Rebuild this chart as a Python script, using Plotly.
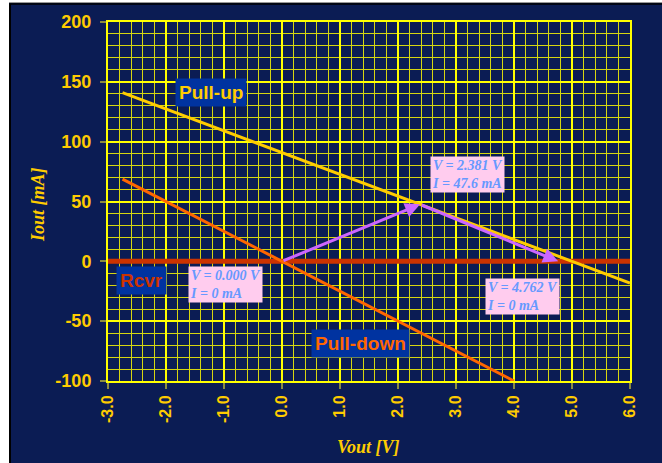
import plotly.graph_objects as go

# ---- data ----
pullup_v = [-2.75, 6.0]
pullup_i = [(5 - v) / 55 * 1000 for v in pullup_v]   # 5 V source, 55 ohm
pulldown_v = [-2.75, 4.0]
pulldown_i = [-v / 40 * 1000 for v in pulldown_v]    # 40 ohm to ground
rcvr_v = [-3.07, 6.0]
rcvr_i = [0, 0]
bounce_v = [0.0, 2.381, 4.762]
bounce_i = [0.0, 47.6, 0.0]
point_labels = ["V = 0.000 V<br>I = 0 mA", "V = 2.381 V<br>I = 47.6 mA", "V = 4.762 V<br>I = 0 mA"]
point_label_pos = [(-0.98, -19.5), (3.19, 72.5), (4.14, -29.5)]
line_labels = ["Pull-up", "Rcvr", "Pull-down"]
line_label_pos = [(-1.22, 141), (-2.43, -16), (1.36, -69)]
line_label_colors = ["#FFCC00", "#CC3300", "#FF6600"]
x_tickvals = [-3, -2, -1, 0, 1, 2, 3, 4, 5, 6]
x_ticktext = ["-3.0", "-2.0", "-1.0", "0.0", "1.0", "2.0", "3.0", "4.0", "5.0", "6.0"]
y_tickvals = [-100, -50, 0, 50, 100, 150, 200]
y_ticktext = ["-100", "-50", "0", "50", "100", "150", "200"]
x_title = "Vout [V]"
y_title = "Iout [mA]"

NAVY = "#0B1C54"
GOLD = "#FFCC00"

fig = go.Figure()
fig.add_trace(go.Scatter(x=rcvr_v, y=rcvr_i, mode="lines", line=dict(color="#CC3300", width=5), hoverinfo="skip"))
fig.add_trace(go.Scatter(x=pullup_v, y=pullup_i, mode="lines", line=dict(color="#FFCC00", width=3), hoverinfo="skip"))
fig.add_trace(go.Scatter(x=pulldown_v, y=pulldown_i, mode="lines", line=dict(color="#FF6600", width=3), hoverinfo="skip"))

# page geometry
L, R, T, B = 108, 32, 22, 82
W, H = 662, 463
pw, ph = W - L - R, H - T - B
def px2x(p): return (p - L) / pw
def py2y(p): return (H - B - p) / ph

title_font = dict(family="Liberation Serif, Times New Roman, serif", size=18, color=GOLD,
                  style="italic", weight="bold")

annotations = []
# bounce arrows
for k in range(len(bounce_v) - 1):
    annotations.append(dict(
        x=bounce_v[k + 1], y=bounce_i[k + 1], ax=bounce_v[k], ay=bounce_i[k],
        xref="x", yref="y", axref="x", ayref="y", text="", showarrow=True,
        arrowhead=2, arrowsize=1, arrowwidth=3, arrowcolor="#CC66FF"))
for txt, (px, py) in zip(point_labels, point_label_pos):
    annotations.append(dict(
        x=px, y=py, xref="x", yref="y", text=txt, showarrow=False, align="left",
        bgcolor="#FFCCEE", borderpad=1,
        font=dict(family="Liberation Serif, Times New Roman, serif", size=14, color="#6699FF",
                  style="italic", weight="bold")))
for txt, (px, py), col in zip(line_labels, line_label_pos, line_label_colors):
    annotations.append(dict(
        x=px, y=py, xref="x", yref="y", text=txt, showarrow=False,
        bgcolor="#0033A0", borderpad=3,
        font=dict(family="Liberation Sans, Arial, sans-serif", size=19, color=col, weight="bold")))
# axis titles
annotations.append(dict(x=px2x(368), y=py2y(447), xref="paper", yref="paper", text=x_title,
                        showarrow=False, font=title_font, xanchor="center", yanchor="middle"))
annotations.append(dict(x=px2x(38), y=py2y(205), xref="paper", yref="paper", text=y_title,
                        showarrow=False, font=title_font, textangle=-90,
                        xanchor="center", yanchor="middle"))

shapes = [
    dict(type="rect", xref="paper", yref="paper", x0=px2x(-5), x1=px2x(9), y0=py2y(H + 5), y1=py2y(-5),
         fillcolor="white", line=dict(width=0), layer="above"),
    dict(type="rect", xref="paper", yref="paper", x0=px2x(-5), x1=px2x(W + 5), y0=py2y(3), y1=py2y(-5),
         fillcolor="white", line=dict(width=0), layer="above"),
    dict(type="line", xref="paper", yref="paper", x0=px2x(9), x1=px2x(W + 5), y0=py2y(2.5), y1=py2y(2.5),
         line=dict(color="#999999", width=1), layer="above"),
    dict(type="line", xref="paper", yref="paper", x0=px2x(10), x1=px2x(10), y0=py2y(4), y1=py2y(H + 5),
         line=dict(color="black", width=2), layer="above"),
    dict(type="line", xref="paper", yref="paper", x0=px2x(9), x1=px2x(W + 5), y0=py2y(4), y1=py2y(4),
         line=dict(color="black", width=1.5), layer="above"),
]

tick_font_x = dict(family="Liberation Sans, Arial, sans-serif", size=16, color=GOLD, weight="bold")
tick_font_y = dict(family="Liberation Sans, Arial, sans-serif", size=18, color=GOLD, weight="bold")

fig.update_layout(
    width=W, height=H, showlegend=False,
    margin=dict(l=L, r=R, t=T, b=B),
    paper_bgcolor=NAVY, plot_bgcolor=NAVY,
    annotations=annotations, shapes=shapes,
    xaxis=dict(
        range=[-3, 6], tickmode="array", tickvals=x_tickvals, ticktext=x_ticktext, tickangle=-90,
        showgrid=True, gridcolor="#FFFF00", gridwidth=2,
        minor=dict(dtick=0.2, tick0=0, showgrid=True, gridcolor="#D6D610", gridwidth=1),
        showline=True, linecolor="#FFFF00", linewidth=2, mirror=True,
        ticks="outside", ticklen=6, tickcolor="#8C8C40", tickwidth=2,
        zeroline=False, tickfont=tick_font_x, automargin=False,
    ),
    yaxis=dict(
        range=[-100, 200], tickmode="array", tickvals=y_tickvals, ticktext=y_ticktext,
        showgrid=True, gridcolor="#FFFF00", gridwidth=2,
        minor=dict(dtick=10, tick0=0, showgrid=True, gridcolor="#D6D610", gridwidth=1),
        showline=True, linecolor="#FFFF00", linewidth=2, mirror=True,
        ticks="outside", ticklen=6, tickcolor="#8C8C40", tickwidth=2,
        zeroline=False, tickfont=tick_font_y, ticklabelstandoff=5, automargin=False,
    ),
)

fig.write_html("out.html", config={"displayModeBar": False},
               post_script="document.body.style.margin='0';document.body.style.overflow='hidden';")
